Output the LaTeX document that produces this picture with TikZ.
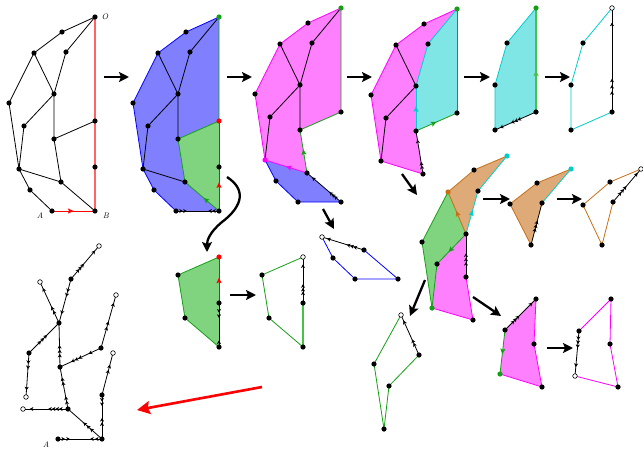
\documentclass[tikz,border=0pt]{standalone}
\usetikzlibrary{arrows.meta,decorations.markings}
\definecolor{fblue}{RGB}{128,128,255}
\definecolor{fgreen}{RGB}{128,212,128}
\definecolor{fmag}{RGB}{255,128,255}
\definecolor{fcyan}{RGB}{128,229,229}
\definecolor{forange}{RGB}{222,170,120}
\definecolor{lgreen}{RGB}{20,160,20}
\definecolor{bgreen}{RGB}{70,195,70}
\definecolor{lcyan}{RGB}{0,205,205}
\definecolor{lorange}{RGB}{200,110,20}
\definecolor{lred}{RGB}{255,100,100}
\definecolor{lmag}{RGB}{255,0,255}
\definecolor{lblue}{RGB}{0,0,255}
\tikzset{
 ed/.style={line width=0.8pt},
 big/.style={line width=2.3pt,-{Stealth[length=10pt,width=10pt,inset=2pt]}},
 mk/.style={postaction={decorate,decoration={markings,mark=at position #1 with {\arrow{Stealth[length=3.6pt,width=4pt,inset=1pt]}}}}},
 mid/.style={postaction={decorate,decoration={markings,mark=at position #1 with {\arrow{Stealth[length=5.5pt,width=5pt,inset=1pt]}}}}},
 lbl/.style={font=\fontsize{8}{9}\selectfont\itshape, inner sep=0pt},
}
\newcommand\basepts[1]{%
 \coordinate (#1O) at (95,17);
 \coordinate (#1P1) at (62,32);
 \coordinate (#1P2) at (34,53);
 \coordinate (#1P3) at (66,52);
 \coordinate (#1P4) at (54,94);
 \coordinate (#1P5) at (9,103);
 \coordinate (#1P6) at (24,126);
 \coordinate (#1P7) at (54,139);
 \coordinate (#1R1) at (95,121);
 \coordinate (#1R2) at (95,167);
 \coordinate (#1P8) at (19,169);
 \coordinate (#1P9) at (61,182);
 \coordinate (#1P10) at (30,190);
 \coordinate (#1A) at (52,211);
 \coordinate (#1B) at (95,211);}
\newcommand\dd[2][black]{\fill[#1] (#2) circle (2.6pt);}
\newcommand\od[1]{\filldraw[fill=white,draw=black,line width=0.6pt] (#1) circle (2.3pt);}
\begin{document}
\begin{tikzpicture}[x=1pt,y=-1pt]
\useasboundingbox (0,0) rectangle (643,450);
\begin{scope}\basepts{a}\end{scope}
\begin{scope}[shift={(124,0)}]\basepts{b}\end{scope}
\begin{scope}[shift={(246,-9)}]\basepts{c}\end{scope}
\begin{scope}[shift={(362,-8)}]\basepts{d}\end{scope}
\begin{scope}[shift={(441,-9)}]\basepts{e}\end{scope}
\begin{scope}[shift={(517,-9)}]\basepts{f}\end{scope}
\begin{scope}[shift={(124,136)}]\basepts{g}\end{scope}
\begin{scope}[shift={(208,136)}]\basepts{h}\end{scope}
\begin{scope}[shift={(303,68)}]\basepts{i}\end{scope}

% ---------- panel 1
\draw[ed] (aO)--(aP1)--(aP2)--(aP5)--(aP8)--(aP10)--(aA);
\draw[ed] (aO)--(aP3)--(aP4) (aP2)--(aP4) (aP4)--(aP6)--(aP8) (aP4)--(aP7)--(aR1) (aP7)--(aP9) (aP8)--(aP9)--(aB);
\draw[lred,line width=1.1pt] (aB)--(aO);
\draw[red,ed,mid=0.5] (aA)--(aB);
\foreach \p in {O,P1,P2,P3,P4,P5,P6,P7,R1,R2,P8,P9,P10,A,B} {\dd{a\p}}
\node[lbl] (labO) at ([xshift=10pt]aO) {O};
\node[lbl] (labA) at ([xshift=-12pt,yshift=-5pt]aA) {A};
\node[lbl] (labB) at ([xshift=11pt,yshift=-5pt]aB) {B};

% ---------- panel 2
\fill[fblue] (bO)--(bP1)--(bP2)--(bP5)--(bP8)--(bP10)--(bA)--(bB)--cycle;
\fill[fgreen] (bR1)--(bP7)--(bP9)--(bB)--cycle;
\draw[lblue,ed] (bO)--(bP1)--(bP2)--(bP5)--(bP8)--(bP10)--(bA);
\draw[ed,mk=0.16,mk=0.25] (bA)--(bB);
\draw[ed,mk=0.16,mk=0.25] (bB)--(bA);
\draw[lgreen,ed] (bO)--(bR1)--(bP7)--(bP9);
\draw[lgreen,ed,mid=0.45] (bB)--(bP9);
\draw[red,ed,mid=0.65] (bB)--(bR2);
\draw[red,ed] (bR2)--(bR1);
\draw[ed] (bO)--(bP3)--(bP4) (bP2)--(bP4) (bP4)--(bP6)--(bP8) (bP4)--(bP7) (bP8)--(bP9);
\foreach \p in {P1,P2,P3,P4,P5,P6,P7,R2,P8,P9,P10,A,B} {\dd{b\p}}
\dd[lgreen]{bO}
\dd[red]{bR1}

% ---------- panel 3
\fill[fmag] (cO)--(cP1)--(cP2)--(cP5)--(cP8)--(cP9)--(cP7)--(cR1)--cycle;
\fill[fblue] (cP8)--(cP10)--(cA)--(cB)--(cP9)--cycle;
\draw[lmag,ed] (cO)--(cP1)--(cP2)--(cP5)--(cP8);
\draw[lmag,ed,mid=0.5] (cP9)--(cP8);
\draw[lgreen,ed] (cO)--(cR1)--(cP7);
\draw[lgreen,ed,mid=0.55] (cP9)--(cP7);
\draw[lblue,ed] (cP8)--(cP10)--(cA)--(cB);
\draw[ed,mk=0.2,mk=0.27,mk=0.34,mk=0.85] (cB)--(cP9);
\draw[ed] (cO)--(cP3)--(cP4) (cP2)--(cP4) (cP4)--(cP6)--(cP8) (cP4)--(cP7);
\foreach \p in {P1,P2,P3,P4,P5,P6,P7,R1,P9,P10,A,B} {\dd{c\p}}
\dd[lgreen]{cO}
\dd[lmag]{cP8}

% ---------- panel 4
\fill[fmag] (dO)--(dP1)--(dP2)--(dP5)--(dP8)--(dP9)--(dP7)--(dP4)--(dP3)--cycle;
\fill[fcyan] (dO)--(dP3)--(dP4)--(dP7)--(dR1)--cycle;
\draw[lmag,ed] (dO)--(dP1)--(dP2)--(dP5)--(dP8)--(dP9);
\draw[ed,mk=0.2,mk=0.28,mk=0.8] (dP9)--(dP7);
\draw[lcyan,ed,mid=0.55] (dP7)--(dP4);
\draw[lcyan,ed] (dP4)--(dP3)--(dO);
\draw[lgreen,ed,mid=0.5] (dP7)--(dR1);
\draw[lgreen,ed] (dR1)--(dO);
\draw[ed] (dP2)--(dP4) (dP4)--(dP6)--(dP8);
\foreach \p in {P1,P2,P3,P4,P5,P6,P7,R1,P8,P9} {\dd{d\p}}
\dd[lgreen]{dO}

% ---------- panel 5
\fill[fcyan] (eO)--(eP3)--(eP4)--(eP7)--(eR1)--cycle;
\draw[lcyan,ed] (eO)--(eP3)--(eP4)--(eP7);
\draw[bgreen,line width=1.6pt,mid=0.4] (eR1)--(eO);
\draw[ed,mk=0.45,mk=0.53,mk=0.61,mk=0.88] (eR1)--(eP7);
\foreach \p in {P3,P4,P7,R1} {\dd{e\p}}
\dd[lgreen]{eO}

% ---------- panel 6
\draw[lcyan,ed] (fO)--(fP3)--(fP4)--(fP7)--(fR1);
\draw[ed,mk=0.2,mk=0.26,mk=0.32,mk=0.86] (fR1)--(fO);
\foreach \p in {P3,P4,P7,R1} {\dd{f\p}}
\od{fO}

% ---------- panel 7
\fill[fgreen] (gR1)--(gP7)--(gP9)--(gB)--cycle;
\draw[lgreen,ed] (gR1)--(gP7)--(gP9)--(gB);
\draw[ed,mk=0.22,mk=0.34] (gR2)--(gB);
\draw[ed,mk=0.15] (gB)--(gR2);
\draw[red,ed,mid=0.55] (gR2)--(gR1);
\foreach \p in {P7,P9,R2,B} {\dd{g\p}}
\dd[red]{gR1}

% ---------- panel 8
\draw[lgreen,ed] (hR1)--(hP7)--(hP9)--(hB);
\draw[bgreen,line width=1.6pt] (hB)--(hR2);
\draw[ed,mk=0.25,mk=0.33,mk=0.41,mk=0.84] (hR2)--(hR1);
\foreach \p in {P7,P9,R2,B} {\dd{h\p}}
\od{hR1}

% ---------- blue outline panel
\draw[lblue,ed] (iP8)--(iP10)--(iA)--(iB)--(iP9);
\draw[ed,mk=0.25,mk=0.33,mk=0.41,mk=0.88] (iP9)--(iP8);
\foreach \p in {P10,A,B,P9} {\dd{i\p}}
\od{iP8}

% ---------- panel 9
\coordinate (q1) at (448,192);
\coordinate (q2) at (474,170);
\coordinate (q3) at (507,156);
\coordinate (q4) at (478,191);
\coordinate (q5) at (466,234);
\coordinate (q6) at (422,242);
\coordinate (q7) at (437,264);
\coordinate (q8) at (466,277);
\coordinate (q9) at (432,308);
\coordinate (q10) at (473,320);
\fill[forange] (q1)--(q2)--(q3)--(q4)--(q5)--cycle;
\fill[fgreen] (q1)--(q5)--(q7)--(q9)--(q6)--cycle;
\fill[fmag] (q5)--(q8)--(q10)--(q9)--(q7)--cycle;
\draw[lorange,ed] (q1)--(q2)--(q3);
\draw[lcyan,ed] (q3)--(q4);
\draw[lcyan,ed,mid=0.55] (q5)--(q4);
\draw[lorange,ed,mid=0.55] (q5)--(q1);
\draw[lgreen,ed] (q1)--(q6)--(q9)--(q7);
\draw[lgreen,ed,mid=0.6] (q5)--(q7);
\draw[lmag,ed] (q9)--(q10)--(q8);
\draw[ed,mk=0.35,mk=0.45,mk=0.55] (q8)--(q5);
\foreach \p in {q2,q4,q5,q6,q7,q8,q10} {\dd{\p}}
\dd[lorange]{q1}
\dd[lcyan]{q3}
\dd[lgreen]{q9}

% ---------- panel 10
\coordinate (r1) at (510,204);
\coordinate (r2) at (537,183);
\coordinate (r3) at (571,169);
\coordinate (r4) at (542,203);
\coordinate (r5) at (531,245);
\fill[forange] (r1)--(r2)--(r3)--(r4)--(r5)--cycle;
\draw[lorange,ed] (r1)--(r2)--(r3);
\draw[lorange,ed] (r5)--(r1);
\draw[lcyan,ed] (r3)--(r4);
\draw[ed,mk=0.4,mk=0.49,mk=0.58] (r5)--(r4);
\foreach \p in {r1,r2,r4,r5} {\dd{\p}}
\dd[lcyan]{r3}

% ---------- panel 11
\coordinate (s1) at (583,205);
\coordinate (s2) at (610,182);
\coordinate (s3) at (641,169);
\coordinate (s4) at (613,202);
\coordinate (s5) at (602,245);
\draw[lorange,ed] (s1)--(s2)--(s3);
\draw[lorange,ed] (s4)--(s5)--(s1);
\draw[ed,mk=0.3,mk=0.39,mk=0.48,mk=0.88] (s4)--(s3);
\foreach \p in {s1,s2,s4,s5} {\dd{\p}}
\od{s3}

% ---------- panel 12
\coordinate (t1) at (401,315);
\coordinate (t2) at (419,355);
\coordinate (t3) at (374,364);
\coordinate (t4) at (389,386);
\coordinate (t5) at (384,429);
\draw[lgreen,ed] (t1)--(t3)--(t5)--(t4)--(t2);
\draw[ed,mk=0.3,mk=0.39,mk=0.86] (t2)--(t1);
\foreach \p in {t2,t3,t4,t5} {\dd{\p}}
\od{t1}

% ---------- panel 13
\coordinate (u1) at (536,299);
\coordinate (u2) at (505,330);
\coordinate (u3) at (534,344);
\coordinate (u4) at (500,374);
\coordinate (u5) at (542,387);
\fill[fmag] (u1)--(u3)--(u5)--(u4)--(u2)--cycle;
\draw[lmag,ed] (u1)--(u3)--(u5)--(u4);
\draw[lgreen,ed,mid=0.55] (u2)--(u4);
\draw[ed,mk=0.3,mk=0.38,mk=0.46,mk=0.88] (u2)--(u1);
\foreach \p in {u1,u2,u3,u5} {\dd{\p}}
\dd[lgreen]{u4}

% ---------- panel 14
\coordinate (v1) at (611,299);
\coordinate (v2) at (579,331);
\coordinate (v3) at (610,344);
\coordinate (v4) at (575,376);
\coordinate (v5) at (618,387);
\draw[lmag,ed] (v2)--(v1)--(v3)--(v5)--(v4);
\draw[ed,mk=0.2,mk=0.29,mk=0.38,mk=0.8] (v2)--(v4);
\foreach \p in {v1,v2,v3,v5} {\dd{\p}}
\od{v4}

% ---------- tree
\coordinate (w1) at (99,246);
\coordinate (w2) at (71,279);
\coordinate (w3) at (40,282);
\coordinate (w4) at (59,323);
\coordinate (w5) at (116,295);
\coordinate (w6) at (101,348);
\coordinate (w7) at (29,353);
\coordinate (w8) at (113,353);
\coordinate (w9) at (60,367);
\coordinate (w10) at (102,395);
\coordinate (w11) at (26,397);
\coordinate (w12) at (23,409);
\coordinate (w13) at (68,409);
\coordinate (wA) at (58,439);
\coordinate (wB) at (102,439);
\draw[ed,mk=0.3,mk=0.38,mk=0.46,mk=0.86] (w2)--(w1);
\draw[ed,mk=0.3,mk=0.4,mk=0.8] (w2)--(w4);
\draw[ed,mk=0.3,mk=0.4,mk=0.85] (w4)--(w3);
\draw[ed,mk=0.4,mk=0.5,mk=0.6] (w7)--(w4);
\draw[ed,mk=0.25,mk=0.37,mk=0.85] (w7)--(w11);
\draw[ed,mk=0.3,mk=0.4,mk=0.5] (w9)--(w4);
\draw[ed,mk=0.3,mk=0.55,mk=0.64,mk=0.73] (w6)--(w9);
\draw[ed,mk=0.4,mk=0.5,mk=0.85] (w6)--(w5);
\draw[ed,mk=0.2,mk=0.3,mk=0.65,mk=0.75] (w13)--(w9);
\draw[ed,mk=0.2,mk=0.28,mk=0.36,mk=0.44,mk=0.85] (w13)--(w12);
\draw[ed,mk=0.35,mk=0.45,mk=0.55] (wB)--(w13);
\draw[ed,mk=0.15,mk=0.25] (w10)--(wB);
\draw[ed,mk=0.38,mk=0.48] (wB)--(w10);
\draw[ed,mk=0.6,mk=0.72] (w10)--(w8);
\draw[ed,mk=0.16,mk=0.27] (wA)--(wB);
\draw[ed,mk=0.16,mk=0.27] (wB)--(wA);
\foreach \p in {w2,w4,w6,w7,w9,w10,w13,wA,wB} {\dd{\p}}
\foreach \p in {w1,w3,w5,w8,w11,w12} {\od{\p}}
\node[lbl] (labA2) at ([xshift=-12pt,yshift=-6pt]wA) {A};

% ---------- big arrows
\coordinate (k1s) at (104,77);  \coordinate (k1e) at (129,77);
\coordinate (k2s) at (227,77);  \coordinate (k2e) at (252,77);
\coordinate (k3s) at (347,77);  \coordinate (k3e) at (372,77);
\coordinate (k4s) at (464,77);  \coordinate (k4e) at (490,77);
\coordinate (k5s) at (545,77);  \coordinate (k5e) at (570,77);
\coordinate (k6s) at (227,177); \coordinate (k6e) at (207,252);
\coordinate (k7s) at (323,209); \coordinate (k7e) at (334,229);
\coordinate (k8s) at (402,174); \coordinate (k8e) at (417,195);
\coordinate (k9s) at (483,199); \coordinate (k9e) at (510,199);
\coordinate (k10s) at (557,199); \coordinate (k10e) at (582,199);
\coordinate (k11s) at (425,280); \coordinate (k11e) at (410,316);
\coordinate (k12s) at (473,297); \coordinate (k12e) at (501,316);
\coordinate (k13s) at (230,295); \coordinate (k13e) at (256,295);
\coordinate (k14s) at (547,348); \coordinate (k14e) at (573,348);
\coordinate (k15s) at (262,387); \coordinate (k15e) at (137,410);
\foreach \k in {1,2,3,4,5,7,8,9,10,11,12,13,14} {\draw[big] (k\k s)--(k\k e);}
\draw[big] (k6s) .. controls (250,192) and (238,210) .. (222,222) .. controls (210,232) and (207,240) .. (k6e);
\draw[red,line width=2.6pt,-{Stealth[length=13pt,width=13pt,inset=2pt]}] (k15s)--(k15e);
\end{tikzpicture}
\end{document}
